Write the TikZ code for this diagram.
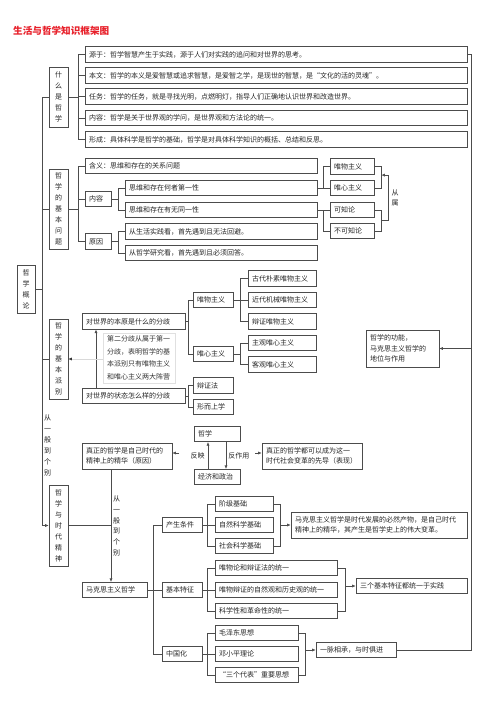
\documentclass[tikz,border=0pt]{standalone}
\usepackage{fontspec}
\setmainfont{Noto Sans CJK SC}
\usepackage{xcolor}
\usetikzlibrary{arrows.meta, shadows, calc}

\definecolor{titlered}{HTML}{E8202A}

\tikzset{
  box/.style={draw=black!70, line width=0.6pt, fill=white, inner xsep=4pt, inner ysep=0pt,
    minimum height=15.5pt, text=black!85, font=\fontsize{7}{10}\selectfont,
    drop shadow={shadow xshift=0.7pt, shadow yshift=-0.7pt, fill=black!35, opacity=0.6}},
  tbox/.style={box, text width=#1, align=left},
  vbox/.style={box, inner xsep=0pt, minimum width=19pt, align=center, font=\fontsize{7}{11}\selectfont},
  note/.style={draw=black!12, line width=0.5pt, fill=white, inner xsep=4pt, inner ysep=3pt,
    text width=64pt, align=left, text=black!80, font=\fontsize{7}{12.5}\selectfont},
  link/.style={draw=black!70, line width=0.6pt},
  arr/.style={link, -{Latex[length=3.5pt,width=3pt]}},
  lbl/.style={font=\fontsize{7}{10}\selectfont, text=black!85, inner sep=0pt, align=center}
}

\begin{document}
\begin{tikzpicture}[x=1pt, y=-1pt]
\useasboundingbox (0,0) rectangle (500,709);
\fill[white] (0,0) rectangle (500,709);

% title
\node[font=\fontsize{9.6}{11}\selectfont\bfseries, text=titlered, anchor=west, inner sep=0pt] (title) at (13,31) {生活与哲学知识框架图};

% what is philosophy
\node[vbox, minimum height=60pt] (wsm) at (58.5,97) {什\\么\\是\\哲\\学};
\node[tbox=374pt] (yuan) at (276,54.5) {源于：哲学智慧产生于实践，源于人们对实践的追问和对世界的思考。};
\node[tbox=374pt] (benyi) at (276,75.5) {本文：哲学的本义是爱智慧或追求智慧，是爱智之学，是现世的智慧，是“文化的活的灵魂”。};
\node[tbox=374pt] (renwu) at (276,96.5) {任务：哲学的任务，就是寻找光明，点燃明灯，指导人们正确地认识世界和改造世界。};
\node[tbox=374pt] (neir) at (276,118) {内容：哲学是关于世界观的学问，是世界观和方法论的统一。};
\node[tbox=374pt] (xingc) at (276,139.5) {形成：具体科学是哲学的基础，哲学是对具体科学知识的概括、总结和反思。};
\draw[link] (wsm.east) -- ++(10,0) coordinate (b1);
\foreach \n in {yuan,benyi,renwu,neir,xingc}
  \draw[link] (\n.west) -- (\n.west -| b1);
\draw[link] (yuan.west -| b1) -- (xingc.west -| b1);

% basic question
\node[vbox, minimum height=80pt] (jbwt) at (58.5,209) {哲\\学\\的\\基\\本\\问\\题};
\node[tbox=224pt] (hanyi) at (201,166) {含义：思维和存在的关系问题};
\node[tbox=18pt] (nr) at (98,199) {内容};
\node[tbox=18pt] (yy) at (98,241.5) {原因};
\node[tbox=184pt] (dyx) at (221,188) {思维和存在何者第一性};
\node[tbox=184pt] (tyx) at (221,210) {思维和存在有无同一性};
\node[tbox=184pt] (shsj) at (221,231.5) {从生活实践看，首先遇到且无法回避。};
\node[tbox=184pt] (zxyj) at (221,253) {从哲学研究看，首先遇到且必须回答。};
\node[tbox=36pt] (wwzy) at (352,166.5) {唯物主义};
\node[tbox=36pt] (wxzy) at (352,188) {唯心主义};
\node[tbox=36pt] (kzl) at (352,210) {可知论};
\node[tbox=36pt] (bkzl) at (352,231) {不可知论};
\draw[link] (jbwt.east) -- ++(10,0) coordinate (b2);
\draw[link] (hanyi.west) -- (hanyi.west -| b2) -- (yy.west -| b2) -- (yy.west);
\draw[link] (nr.west) -- (nr.west -| b2);
\draw[link] (nr.east) -- ++(7,0) coordinate (b3);
\draw[link] (dyx.west) -- (dyx.west -| b3) -- (tyx.west -| b3) -- (tyx.west);
\draw[link] (yy.east) -- ++(7,0) coordinate (b4);
\draw[link] (shsj.west) -- (shsj.west -| b4) -- (zxyj.west -| b4) -- (zxyj.west);
\draw[link] (dyx.east) -- (wxzy.west);
\draw[link] (dyx.east) -- ++(6,0) |- (wwzy.west);
\draw[link] (tyx.east) -- (kzl.west);
\draw[link] (tyx.east) -- ++(6,0) |- (bkzl.west);
\draw[link] (wwzy.east) -- ++(7,0) coordinate (u1) |- (wxzy.east);
\draw[link] (kzl.east) -- ++(7,0) coordinate (l1) |- (bkzl.east);
\draw[arr] ($(l1)!0.5!(l1 |- bkzl.east)$) -- ++(7,0) |- ($(u1)!0.4!(u1 |- wxzy.east)$);
\node[lbl] (cong) at (395,198) {从\\属};

% overview
\node[vbox, minimum width=18pt, minimum height=48pt] (gl) at (26,289) {哲\\学\\概\\论};

% basic schools
\node[vbox, minimum height=80pt] (pb) at (58.5,359) {哲\\学\\的\\基\\本\\派\\别};
\node[tbox=95pt] (by) at (133.5,321.5) {对世界的本原是什么的分歧};
\node[tbox=95pt] (zt) at (133.5,396) {对世界的状态怎么样的分歧};
\node[note] (dier) at (139,358) {第二分歧从属于第一\\分歧，表明哲学的基\\本派别只有唯物主义\\和唯心主义两大阵营};
\node[tbox=32pt] (wm2) at (213,300) {唯物主义};
\node[tbox=32pt] (wx2) at (213,354) {唯心主义};
\node[tbox=32pt] (bzf) at (213,385.5) {辩证法};
\node[tbox=32pt] (xesx) at (213,407) {形而上学};
\node[tbox=60pt] (gdwm) at (282,278.5) {古代朴素唯物主义};
\node[tbox=60pt] (jdwm) at (282,300) {近代机械唯物主义};
\node[tbox=60pt] (bzwm) at (282,321.5) {辩证唯物主义};
\node[tbox=60pt] (zgwx) at (282,343) {主观唯心主义};
\node[tbox=60pt] (kgwx) at (282,364.5) {客观唯心主义};
\draw[link] (by.east) -- ++(2.5,0) coordinate (b5);
\draw[link] (wm2.west) -- (wm2.west -| b5) -- (wx2.west -| b5) -- (wx2.west);
\draw[link] (zt.east) -- ++(2.5,0) coordinate (b6);
\draw[link] (bzf.west) -- (bzf.west -| b6) -- (xesx.west -| b6) -- (xesx.west);
\draw[link] (wm2.east) -- (jdwm.west);
\draw[link] (gdwm.west) -- ++(-7,0) |- (bzwm.west);
\draw[link] (wx2.east) -- ++(7,0) coordinate (b8);
\draw[link] (zgwx.west) -- (zgwx.west -| b8) -- (kgwx.west -| b8) -- (kgwx.west);
\draw[arr] ([xshift=-37.5pt]zt.north) -- ([xshift=-37.5pt]by.south);
\draw[draw=black!15, line width=0.6pt, -{Latex[length=3.5pt,width=3pt,color=black!80]}] (pb.east -| dier.west) -- (pb.east);

% function
\node[tbox=65pt, minimum height=37pt, font=\fontsize{7}{10.5}\selectfont] (gn) at (402.5,348.5) {哲学的功能，\\马克思主义哲学的\\地位与作用};

% times
\node[vbox, minimum height=81pt] (sd) at (58.5,525.5) {哲\\学\\与\\时\\代\\精\\神};
\node[lbl, font=\fontsize{7}{11}\selectfont] (cyb1) at (47.5,445.5) {从\\一\\般\\到\\个\\别};
\node[tbox=82pt, minimum height=26pt] (zx1) at (127,456) {真正的哲学是自己时代的\\精神上的精华（原因）};
\node[tbox=38pt] (zx) at (217,434) {哲学};
\node[tbox=38pt] (jjzz) at (217,477) {经济和政治};
\node[tbox=92pt, minimum height=26pt] (zx2) at (312,456) {真正的哲学都可以成为这一\\时代社会变革的先导（表现）};
\draw[arr] ([xshift=-9pt]jjzz.north) -- ([xshift=-9pt]zx.south) node[midway, left=3pt, lbl] (fy) {反映};
\draw[arr] ([xshift=9pt]zx.south) -- ([xshift=9pt]jjzz.north) node[midway, right=2pt, lbl] (fzy) {反作用};
\coordinate (p1) at (179,453);
\coordinate (p2) at (255,453);
\draw[arr] (p1) -- (p1 -| zx1.east);
\draw[arr] (p2) -- (p2 -| zx2.west);

\node[tbox=57pt] (mk) at (114.5,590) {马克思主义哲学};
\coordinate (tk) at (111,0);
\draw[link] (sd.east) -- (sd.east -| tk);
\draw[arr] (zx1.south -| tk) -- (mk.north -| tk);
\node[lbl, font=\fontsize{7}{10.8}\selectfont] (cyb2) at (116.5,526) {从\\一\\般\\到\\个\\别};

\node[tbox=32pt] (cstj) at (182,525) {产生条件};
\node[tbox=32pt] (jbtz) at (182,590) {基本特征};
\node[tbox=32pt] (zgh) at (182,654) {中国化};
\draw[link] (mk.east) -- (jbtz.west);
\draw[link] (cstj.west) -- ++(-8,0) |- (zgh.west);

\node[tbox=50pt] (jjjc) at (244,504) {阶级基础};
\node[tbox=50pt] (zrkx) at (244,525) {自然科学基础};
\node[tbox=50pt] (shkx) at (244,546) {社会科学基础};
\draw[link] (cstj.east) -- (zrkx.west);
\draw[link] (jjjc.west) -- ++(-7,0) |- (shkx.west);
\draw[link] (jjjc.east) -- ++(7,0) coordinate (b9) |- (shkx.east);
\node[tbox=168pt, minimum height=26pt] (bybg) at (379,525) {马克思主义哲学是时代发展的必然产物，是自己时代\\精神上的精华，其产生是哲学史上的伟大变革。};
\draw[arr] (zrkx.east -| b9) -- (bybg.west);

\node[tbox=114pt] (wlbz) at (276,568) {唯物论和辩证法的统一};
\node[tbox=114pt] (zrls) at (276,590) {唯物辩证的自然观和历史观的统一};
\node[tbox=114pt] (kxgm) at (276,611) {科学性和革命性的统一};
\draw[link] (jbtz.east) -- (zrls.west);
\draw[link] (wlbz.west) -- ++(-7,0) |- (kxgm.west);
\draw[link] (wlbz.east) -- ++(8,0) coordinate (b10) |- (kxgm.east);
\node[tbox=103pt] (tysj) at (411.5,586) {三个基本特征都统一于实践};
\draw[arr] (tysj.west -| b10) -- (tysj.west);

\node[tbox=75pt] (mzd) at (256.5,633) {毛泽东思想};
\node[tbox=75pt] (dxp) at (256.5,654) {邓小平理论};
\node[tbox=75pt] (sgdb) at (256.5,675) {“三个代表”重要思想};
\draw[link] (zgh.east) -- (dxp.west);
\draw[link] (mzd.west) -- ++(-7,0) |- (sgdb.west);
\draw[link] (mzd.east) -- ++(7,0) coordinate (b11) |- (sgdb.east);
\node[tbox=72pt] (ymcc) at (356,650) {一脉相承，与时俱进};
\draw[arr] (ymcc.west -| b11) -- (ymcc.west);

% right return line
\coordinate (rs) at (471,0);
\draw[link] (ymcc.east) -- (ymcc.east -| rs) -- (yuan.east -| rs) -- (yuan.east);
\draw[arr] (gn.east -| rs) -- (gn.east);

% left spine
\coordinate (sp) at (42,0);
\draw[arr] (wsm.west -| sp) |- (sd.west);
\foreach \n in {wsm,jbwt,pb}
  \draw[link] (\n.west) -- (\n.west -| sp);
\draw[link] (gl.east) -- (gl.east -| sp);

\end{tikzpicture}
\end{document}
